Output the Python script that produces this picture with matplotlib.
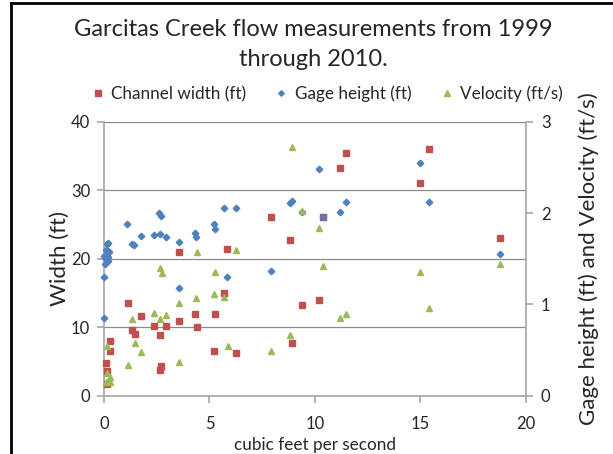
import matplotlib
matplotlib.use("Agg")
import matplotlib.pyplot as plt
from matplotlib.lines import Line2D

plt.rcParams['font.family'] = ['Lato', 'DejaVu Sans']

# Channel width (ft) vs discharge (cfs)
width_cfs = [3.56, 5.85, 1.12, 1.76, 5.71, 4.33, 5.27, 3.56, 2.37, 2.94, 1.33, 1.45,
             2.66, 4.40, 0.27, 0.27, 0.09, 0.14, 0.14, 5.22, 6.26, 2.72, 2.64,
             11.49, 11.19, 7.92, 10.39, 8.82, 9.39, 10.20, 8.90, 15.40, 15.00, 18.80]
width_ft = [21.0, 21.5, 13.5, 11.7, 15.0, 12.0, 12.0, 10.9, 10.2, 10.2, 9.6, 9.0,
            8.8, 10.0, 8.0, 6.5, 4.8, 3.6, 1.7, 6.5, 6.2, 4.4, 3.8,
            35.5, 33.3, 26.1, 26.1, 22.8, 13.2, 14.0, 7.7, 36.0, 31.1, 23.1]

# Gage height (ft) vs discharge (cfs)
gage_cfs = [1.11, 2.62, 2.72, 1.74, 2.37, 2.66, 2.94, 1.33, 1.44, 3.55, 4.33, 4.38,
            5.21, 5.27, 5.69, 6.26, 3.56, 5.85,
            0.20, 0.14, 0.09, 0.17, 0.23, 0.00, 0.09, 0.20, 0.05, 0.17, 0.05, 0.00, 0.00,
            10.20, 8.82, 8.90, 11.49, 9.41, 10.39, 11.19, 7.90,
            15.00, 15.40, 18.80]
gage_ft = [1.88, 2.00, 1.97, 1.75, 1.76, 1.77, 1.74, 1.66, 1.65, 1.68, 1.78, 1.74,
           1.88, 1.83, 2.06, 2.06, 1.18, 1.30,
           1.67, 1.66, 1.60, 1.59, 1.57, 1.53, 1.54, 1.52, 1.51, 1.48, 1.44, 1.30, 0.85,
           2.48, 2.11, 2.13, 2.12, 2.01, 1.96, 2.01, 1.37,
           2.55, 2.12, 1.55]

# Velocity (ft/s) vs discharge (cfs)
vel_cfs = [4.39, 6.26, 2.66, 2.74, 5.28,
           5.23, 5.71, 4.35, 3.57, 2.39, 2.94, 2.66, 1.34, 1.45, 1.76, 1.12, 3.56, 5.87,
           0.16, 0.14, 0.28, 0.11, 0.28,
           8.92, 9.41, 10.21, 10.40, 11.49, 11.21, 8.84, 7.94,
           18.80, 15.00, 15.40]
vel_fps = [1.57, 1.60, 1.40, 1.34, 1.36,
           1.11, 1.08, 1.07, 1.01, 0.91, 0.88, 0.84, 0.84, 0.58, 0.48, 0.34, 0.37, 0.54,
           0.54, 0.25, 0.20, 0.15, 0.15,
           2.73, 2.02, 1.84, 1.42, 0.90, 0.85, 0.66, 0.49,
           1.44, 1.35, 0.96]

x_ticks = [0, 5, 10, 15, 20]
left_ticks = [0, 10, 20, 30, 40]
right_ticks = [0, 1, 2, 3]

RED = '#C0504D'
BLUE = '#4F81BD'
GREEN = '#9BBB59'
AXIS_GRAY = '#a6a6a6'
GRID_GRAY = '#8c8c8c'
TEXT = '#262626'

fig = plt.figure(figsize=(6.13, 4.54), dpi=100)
ax = fig.add_axes([104 / 613, 1 - 395.6 / 454, (525.7 - 104) / 613, (395.6 - 122) / 454])
ax2 = ax.twinx()

ax.set_xlim(0, 20)
ax.set_ylim(0, 40)
ax2.set_ylim(0, 3)
ax.set_xticks(x_ticks)
ax.set_yticks(left_ticks)
ax2.set_yticks(right_ticks)

ax.yaxis.grid(True, color=GRID_GRAY, lw=0.9)
ax.set_axisbelow(True)

for a in (ax, ax2):
    for s in a.spines.values():
        s.set_color(AXIS_GRAY)
        s.set_linewidth(1.2)
    a.spines['top'].set_visible(False)
    a.tick_params(colors=AXIS_GRAY, labelcolor=TEXT, labelsize=12, width=1.2, length=5)
ax.spines['right'].set_visible(False)
ax2.spines['left'].set_visible(False)
ax2.spines['bottom'].set_visible(False)
ax.tick_params(axis='y', pad=5)
ax2.tick_params(axis='y', pad=6)
ax.tick_params(axis='x', pad=10)

ax.plot(width_cfs, width_ft, 's', color=RED, ms=4.8, mec=RED, clip_on=False, zorder=3)
ax2.plot(gage_cfs, gage_ft, 'D', color=BLUE, ms=3.3, mec=BLUE, clip_on=False, zorder=3)
ax2.plot(vel_cfs, vel_fps, '^', color=GREEN, ms=4.8, mec=GREEN, clip_on=False, zorder=3)

ax.set_ylabel('Width (ft)', fontsize=16, color=TEXT, labelpad=1)
ax2.set_ylabel('Gage height (ft) and Velocity (ft/s)', fontsize=16, color=TEXT, labelpad=20)
ax.set_xlabel('cubic feet per second', fontsize=12.3, color=TEXT, labelpad=3)

fig.text(0.511, 1 - 44.5 / 454, 'Garcitas Creek flow measurements from 1999\nthrough 2010.',
         ha='center', va='center', fontsize=17, color=TEXT, linespacing=1.55)

handles = [Line2D([], [], ls='none', marker='s', color=RED, ms=4),
           Line2D([], [], ls='none', marker='D', color=BLUE, ms=2.8),
           Line2D([], [], ls='none', marker='^', color=GREEN, ms=4)]
labels = ['Channel width (ft)', 'Gage height (ft)', 'Velocity (ft/s)']
fig.legend(handles, labels, loc='center', bbox_to_anchor=(0.534, 1 - 94 / 454), ncol=3,
           frameon=False, fontsize=12.3, handlelength=0.7, handletextpad=0.45,
           columnspacing=1.7, labelcolor=TEXT)

# outer chart frame (left and top edges)
fig.add_artist(Line2D([10.5 / 613, 10.5 / 613], [0, 1 - 3 / 454], color='black', lw=2,
                      transform=fig.transFigure))
fig.add_artist(Line2D([10.5 / 613, 1], [1 - 3 / 454, 1 - 3 / 454], color='black', lw=2,
                      transform=fig.transFigure))

fig.savefig('out.png', dpi=100)
